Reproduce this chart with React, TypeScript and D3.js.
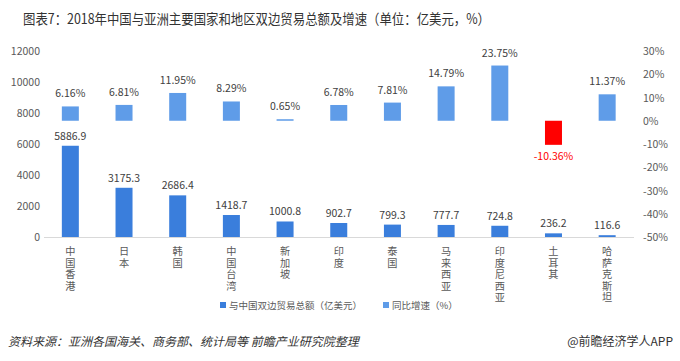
import React from "react";
import * as d3 from "d3";

const categories = ["中国香港", "日本", "韩国", "中国台湾", "新加坡", "印度", "泰国", "马来西亚", "印度尼西亚", "土耳其", "哈萨克斯坦"];
const tradeValues = [5886.9, 3175.3, 2686.4, 1418.7, 1000.8, 902.7, 799.3, 777.7, 724.8, 236.2, 116.6];
const growthValues = [6.16, 6.81, 11.95, 8.29, 0.65, 6.78, 7.81, 14.79, 23.75, -10.36, 11.37];
const leftTicks = [0, 2000, 4000, 6000, 8000, 10000, 12000];
const rightTicks = [-50, -40, -30, -20, -10, 0, 10, 20, 30];
const title = "图表7：2018年中国与亚洲主要国家和地区双边贸易总额及增速（单位：亿美元，%）";
const seriesNames = ["与中国双边贸易总额（亿美元）", "同比增速（%）"];
const sourceText = "资料来源：亚洲各国海关、商务部、统计局等 前瞻产业研究院整理";
const brandText = "@前瞻经济学人APP";

const W = 680, H = 361;
const FONT = "'Noto Sans CJK SC', 'Noto Sans', sans-serif";

export default function App() {
  const x = d3.scaleBand<string>().domain(categories).range([43.5, 634]).paddingInner(0.69).paddingOuter(0.345);
  const yL = d3.scaleLinear().domain([0, 12000]).range([237, 51]);
  const yR = d3.scaleLinear().domain([-50, 30]).range([237, 51]);
  const bw = 17;
  const cx = (c: string) => (x(c) as number) + x.bandwidth() / 2;
  return (
    <svg width={W} height={H} style={{ position: "absolute", left: 0, top: 0, background: "#fff" }} fontFamily={FONT}>
      <text x={23} y={24} fontSize={14.2} fill="#333" textLength={467} lengthAdjust="spacingAndGlyphs">{title}</text>
      {leftTicks.map((t) => (
        <text key={"l" + t} x={40} y={yL(t) + 4} fontSize={10.5} fill="#595959" textAnchor="end">{t}</text>
      ))}
      {rightTicks.map((t) => (
        <text key={"r" + t} x={643} y={yR(t) + 4} fontSize={10.5} fill="#595959">{t + "%"}</text>
      ))}
      <line x1={44} x2={634} y1={237.5} y2={237.5} stroke="#d9d9d9" strokeWidth={1} />
      {categories.map((c, i) => {
        const v = tradeValues[i];
        const top = yL(v);
        return (
          <g key={"a" + c}>
            <rect x={cx(c) - bw / 2} y={top} width={bw} height={yL(0) - top} fill="#3A7EDC" />
            <text x={cx(c)} y={top - 6} fontSize={10.5} fill="#404040" textAnchor="middle">{v.toFixed(1)}</text>
          </g>
        );
      })}
      {categories.map((c, i) => {
        const g = growthValues[i];
        const y0 = yR(0), y1 = yR(g);
        const neg = g < 0;
        const top = Math.min(y0, y1);
        const h = Math.max(Math.abs(y1 - y0), 1.5);
        return (
          <g key={"g" + c}>
            <rect x={cx(c) - bw / 2} y={neg ? y0 : top - (h - Math.abs(y1 - y0))} width={bw} height={h} fill={neg ? "#FF0000" : "#5F9CE8"} />
            <text x={cx(c)} y={neg ? y1 + 15 : top - 9} fontSize={10.5} fill={neg ? "#FF0000" : "#404040"} textAnchor="middle">{g.toFixed(2) + "%"}</text>
          </g>
        );
      })}
      {categories.map((c) => (
        <text key={"c" + c} x={cx(c)} y={246} fontSize={10.2} fill="#595959" letterSpacing={1.4}
          style={{ writingMode: "vertical-rl", textOrientation: "upright" } as React.CSSProperties}>{c}</text>
      ))}
      <rect x={220} y={302} width={6} height={6} fill="#3A7EDC" />
      <text x={229} y={308.5} fontSize={9.5} fill="#595959">{seriesNames[0]}</text>
      <rect x={383} y={302} width={6} height={6} fill="#5F9CE8" />
      <text x={392} y={308.5} fontSize={9.5} fill="#595959">{seriesNames[1]}</text>
      <text x={8} y={346} fontSize={12} fill="#333" style={{ fontStyle: "italic" }}>{sourceText}</text>
      <text x={673} y={346} fontSize={12} fill="#333" textAnchor="end">{brandText}</text>
    </svg>
  );
}
